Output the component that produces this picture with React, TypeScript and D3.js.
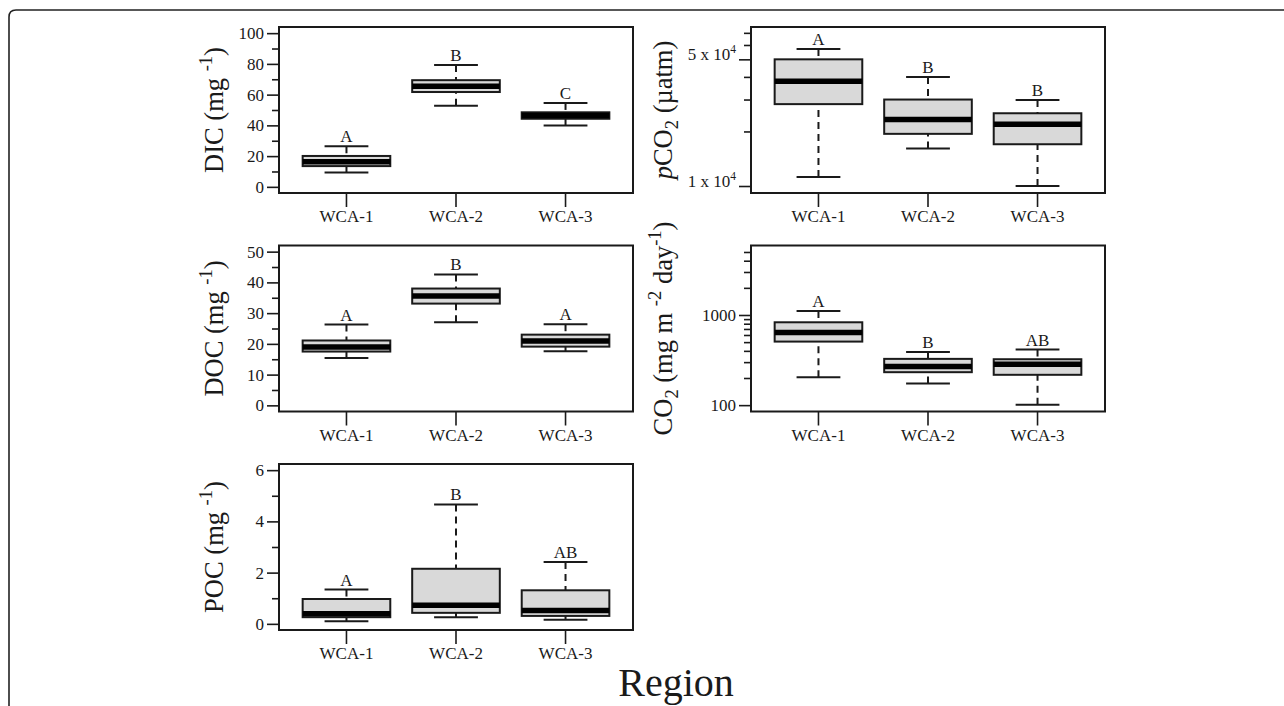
import React, { useRef, useEffect } from "react";
import * as d3 from "d3";

const regions = ["WCA-1", "WCA-2", "WCA-3"];

// each row: [lower whisker, Q1, median, Q3, upper whisker]
const dicStats = [
  [9.3, 13.5, 16.3, 20.1, 26.4],
  [52.8, 61.7, 65.4, 69.4, 79.3],
  [39.9, 44.3, 46.5, 48.5, 54.6],
];
const dicLetters = ["A", "B", "C"];

const pco2Stats = [
  [11200, 28300, 37900, 50000, 57000],
  [16100, 19400, 23300, 30000, 40000],
  [10000, 17000, 21900, 25200, 29800],
];
const pco2Letters = ["A", "B", "B"];

const docStats = [
  [15.4, 17.5, 19.0, 21.1, 26.3],
  [27.0, 33.1, 35.6, 38.0, 42.6],
  [17.6, 19.1, 20.9, 23.0, 26.4],
];
const docLetters = ["A", "B", "A"];

const fluxStats = [
  [204, 507, 638, 830, 1107],
  [174, 232, 268, 326, 389],
  [101, 217, 284, 323, 414],
];
const fluxLetters = ["A", "B", "AB"];

const pocStats = [
  [0.1, 0.26, 0.39, 0.97, 1.34],
  [0.26, 0.43, 0.73, 2.15, 4.66],
  [0.16, 0.31, 0.52, 1.31, 2.41],
];
const pocLetters = ["A", "B", "AB"];

const dicTicks = [0, 20, 40, 60, 80, 100];
const dicMinor = [10, 30, 50, 70, 90];
const docTicks = [0, 10, 20, 30, 40, 50];
const docMinor = [5, 15, 25, 35, 45];
const pocTicks = [0, 2, 4, 6];
const pocMinor = [1, 3, 5];
const pco2Ticks = [10000, 50000];
const pco2Minor = [20000, 30000, 40000, 60000, 70000];
const fluxTicks = [100, 1000];
const fluxMinor = [200, 300, 400, 500, 600, 700, 800, 900, 2000, 3000, 4000, 5000];

const FONT = '"Liberation Serif", "Times New Roman", serif';
const INK = "#1a1a1a";

type Part = { t: string; sup?: boolean; sub?: boolean; it?: boolean };

// write text with super/subscripts as tspans
function rich(text: any, parts: Part[], size: number) {
  let shift = 0;
  parts.forEach((p) => {
    const target = p.sup ? -0.42 * size : p.sub ? 0.22 * size : 0;
    const ts = text.append("tspan").attr("dy", target - shift).text(p.t);
    if (p.sup || p.sub) ts.attr("font-size", size * 0.7);
    if (p.it) ts.attr("font-style", "italic");
    shift = target;
  });
}

const colX = [279, 751];
const rowY = [27, 245.5, 464];
const W = 354;
const H = 166;

const App = () => {
  const ref = useRef<SVGSVGElement>(null);

  useEffect(() => {
    const svg = d3.select(ref.current);
    svg.selectAll("*").remove();

    // outer rounded frame
    svg
      .append("path")
      .attr("d", "M9,706 V17 Q9,10 16,10 H1284")
      .attr("fill", "none")
      .attr("stroke", "#222")
      .attr("stroke-width", 1.6);

    const panels = [
      {
        stats: dicStats, letters: dicLetters, col: 0, row: 0, log: false,
        domain: [-4, 104], major: dicTicks, minor: dicMinor,
        title: [{ t: "DIC (mg " }, { t: "-1", sup: true }, { t: ")" }],
      },
      {
        stats: pco2Stats, letters: pco2Letters, col: 1, row: 0, log: true,
        domain: [9150, 75400], major: pco2Ticks, minor: pco2Minor, sci: true,
        title: [{ t: "p", it: true }, { t: "CO" }, { t: "2", sub: true }, { t: " (µatm)" }],
      },
      {
        stats: docStats, letters: docLetters, col: 0, row: 1, log: false,
        domain: [-2, 52], major: docTicks, minor: docMinor,
        title: [{ t: "DOC (mg " }, { t: "-1", sup: true }, { t: ")" }],
      },
      {
        stats: fluxStats, letters: fluxLetters, col: 1, row: 1, log: true,
        domain: [85, 5900], major: fluxTicks, minor: fluxMinor,
        title: [
          { t: "CO" }, { t: "2", sub: true }, { t: " (mg m " }, { t: "-2", sup: true },
          { t: " day" }, { t: "-1", sup: true }, { t: ")" },
        ],
      },
      {
        stats: pocStats, letters: pocLetters, col: 0, row: 2, log: false,
        domain: [-0.24, 6.24], major: pocTicks, minor: pocMinor,
        title: [{ t: "POC (mg " }, { t: "-1", sup: true }, { t: ")" }],
      },
    ];

    panels.forEach((p: any) => {
      const x0 = colX[p.col];
      const y0 = rowY[p.row];
      const x = d3.scaleBand().domain(regions).range([x0, x0 + W]).paddingInner(0).paddingOuter(0.116);
      const y = (p.log ? d3.scaleLog() : d3.scaleLinear()).domain(p.domain).range([y0 + H, y0]);
      const step = x.bandwidth();
      const boxW = step * 0.8;
      const capW = step * 0.4;
      const g = svg.append("g");

      p.stats.forEach((s: number[], i: number) => {
        const cx = (x(regions[i]) as number) + step / 2;
        const [lo, q1, med, q3, hi] = s;
        [[hi, q3], [lo, q1]].forEach(([a, b]) => {
          g.append("line")
            .attr("x1", cx).attr("x2", cx)
            .attr("y1", y(a)).attr("y2", y(b))
            .attr("stroke", INK).attr("stroke-width", 2)
            .attr("stroke-dasharray", "7,5");
          g.append("line")
            .attr("x1", cx - capW / 2).attr("x2", cx + capW / 2)
            .attr("y1", y(a)).attr("y2", y(a))
            .attr("stroke", INK).attr("stroke-width", 2);
        });
        g.append("rect")
          .attr("x", cx - boxW / 2).attr("width", boxW)
          .attr("y", y(q3)).attr("height", y(q1) - y(q3))
          .attr("fill", "#d9d9d9").attr("stroke", INK).attr("stroke-width", 2);
        g.append("line")
          .attr("x1", cx - boxW / 2).attr("x2", cx + boxW / 2)
          .attr("y1", y(med)).attr("y2", y(med))
          .attr("stroke", "#000").attr("stroke-width", 5.5);
        g.append("text")
          .attr("x", cx).attr("y", y(hi) - 4)
          .attr("text-anchor", "middle")
          .attr("font-family", FONT).attr("font-size", 17).attr("fill", INK)
          .text(p.letters[i]);
      });

      // y axis, major and minor ticks
      const yAxis = g.append("g").attr("transform", `translate(${x0},0)`)
        .call(
          d3.axisLeft(y as any).tickValues(p.major).tickSize(12).tickPadding(3)
            .tickFormat((d: any) => (p.sci ? "" : d3.format("d")(d)))
        );
      g.append("g").attr("transform", `translate(${x0},0)`)
        .call(d3.axisLeft(y as any).tickValues(p.minor).tickSize(7).tickFormat(() => ""));

      if (p.sci) {
        yAxis.selectAll(".tick text").each(function (d: any) {
          const t = d3.select(this);
          const m = Math.round(d / 10000);
          rich(t, [{ t: `${m} x 10` }, { t: "4", sup: true }], 16.5);
        });
      }

      // x axis
      g.append("g").attr("transform", `translate(0,${y0 + H})`)
        .call(d3.axisBottom(x).tickSize(14).tickPadding(3));

      g.selectAll(".domain").remove();
      g.selectAll(".tick line").attr("stroke", INK).attr("stroke-width", 1.6);
      g.selectAll(".tick text").attr("font-family", FONT).attr("font-size", 17).attr("fill", INK);

      // panel frame
      g.append("rect")
        .attr("x", x0).attr("y", y0).attr("width", W).attr("height", H)
        .attr("fill", "none").attr("stroke", INK).attr("stroke-width", 2);

      // y title
      const tx = p.col === 0 ? 223 : 672;
      const title = g.append("text")
        .attr("transform", `translate(${tx},${y0 + H / 2}) rotate(-90)`)
        .attr("text-anchor", "middle")
        .attr("font-family", FONT).attr("font-size", 26.5).attr("fill", INK);
      rich(title, p.title, 26.5);
    });

    svg.append("text")
      .attr("x", 676).attr("y", 696)
      .attr("text-anchor", "middle")
      .attr("font-family", FONT).attr("font-size", 40).attr("fill", INK)
      .text("Region");
  }, []);

  return (
    <svg
      ref={ref}
      width={1284}
      height={706}
      style={{ position: "absolute", left: 0, top: 0, background: "#fff" }}
    />
  );
};

export default App;
